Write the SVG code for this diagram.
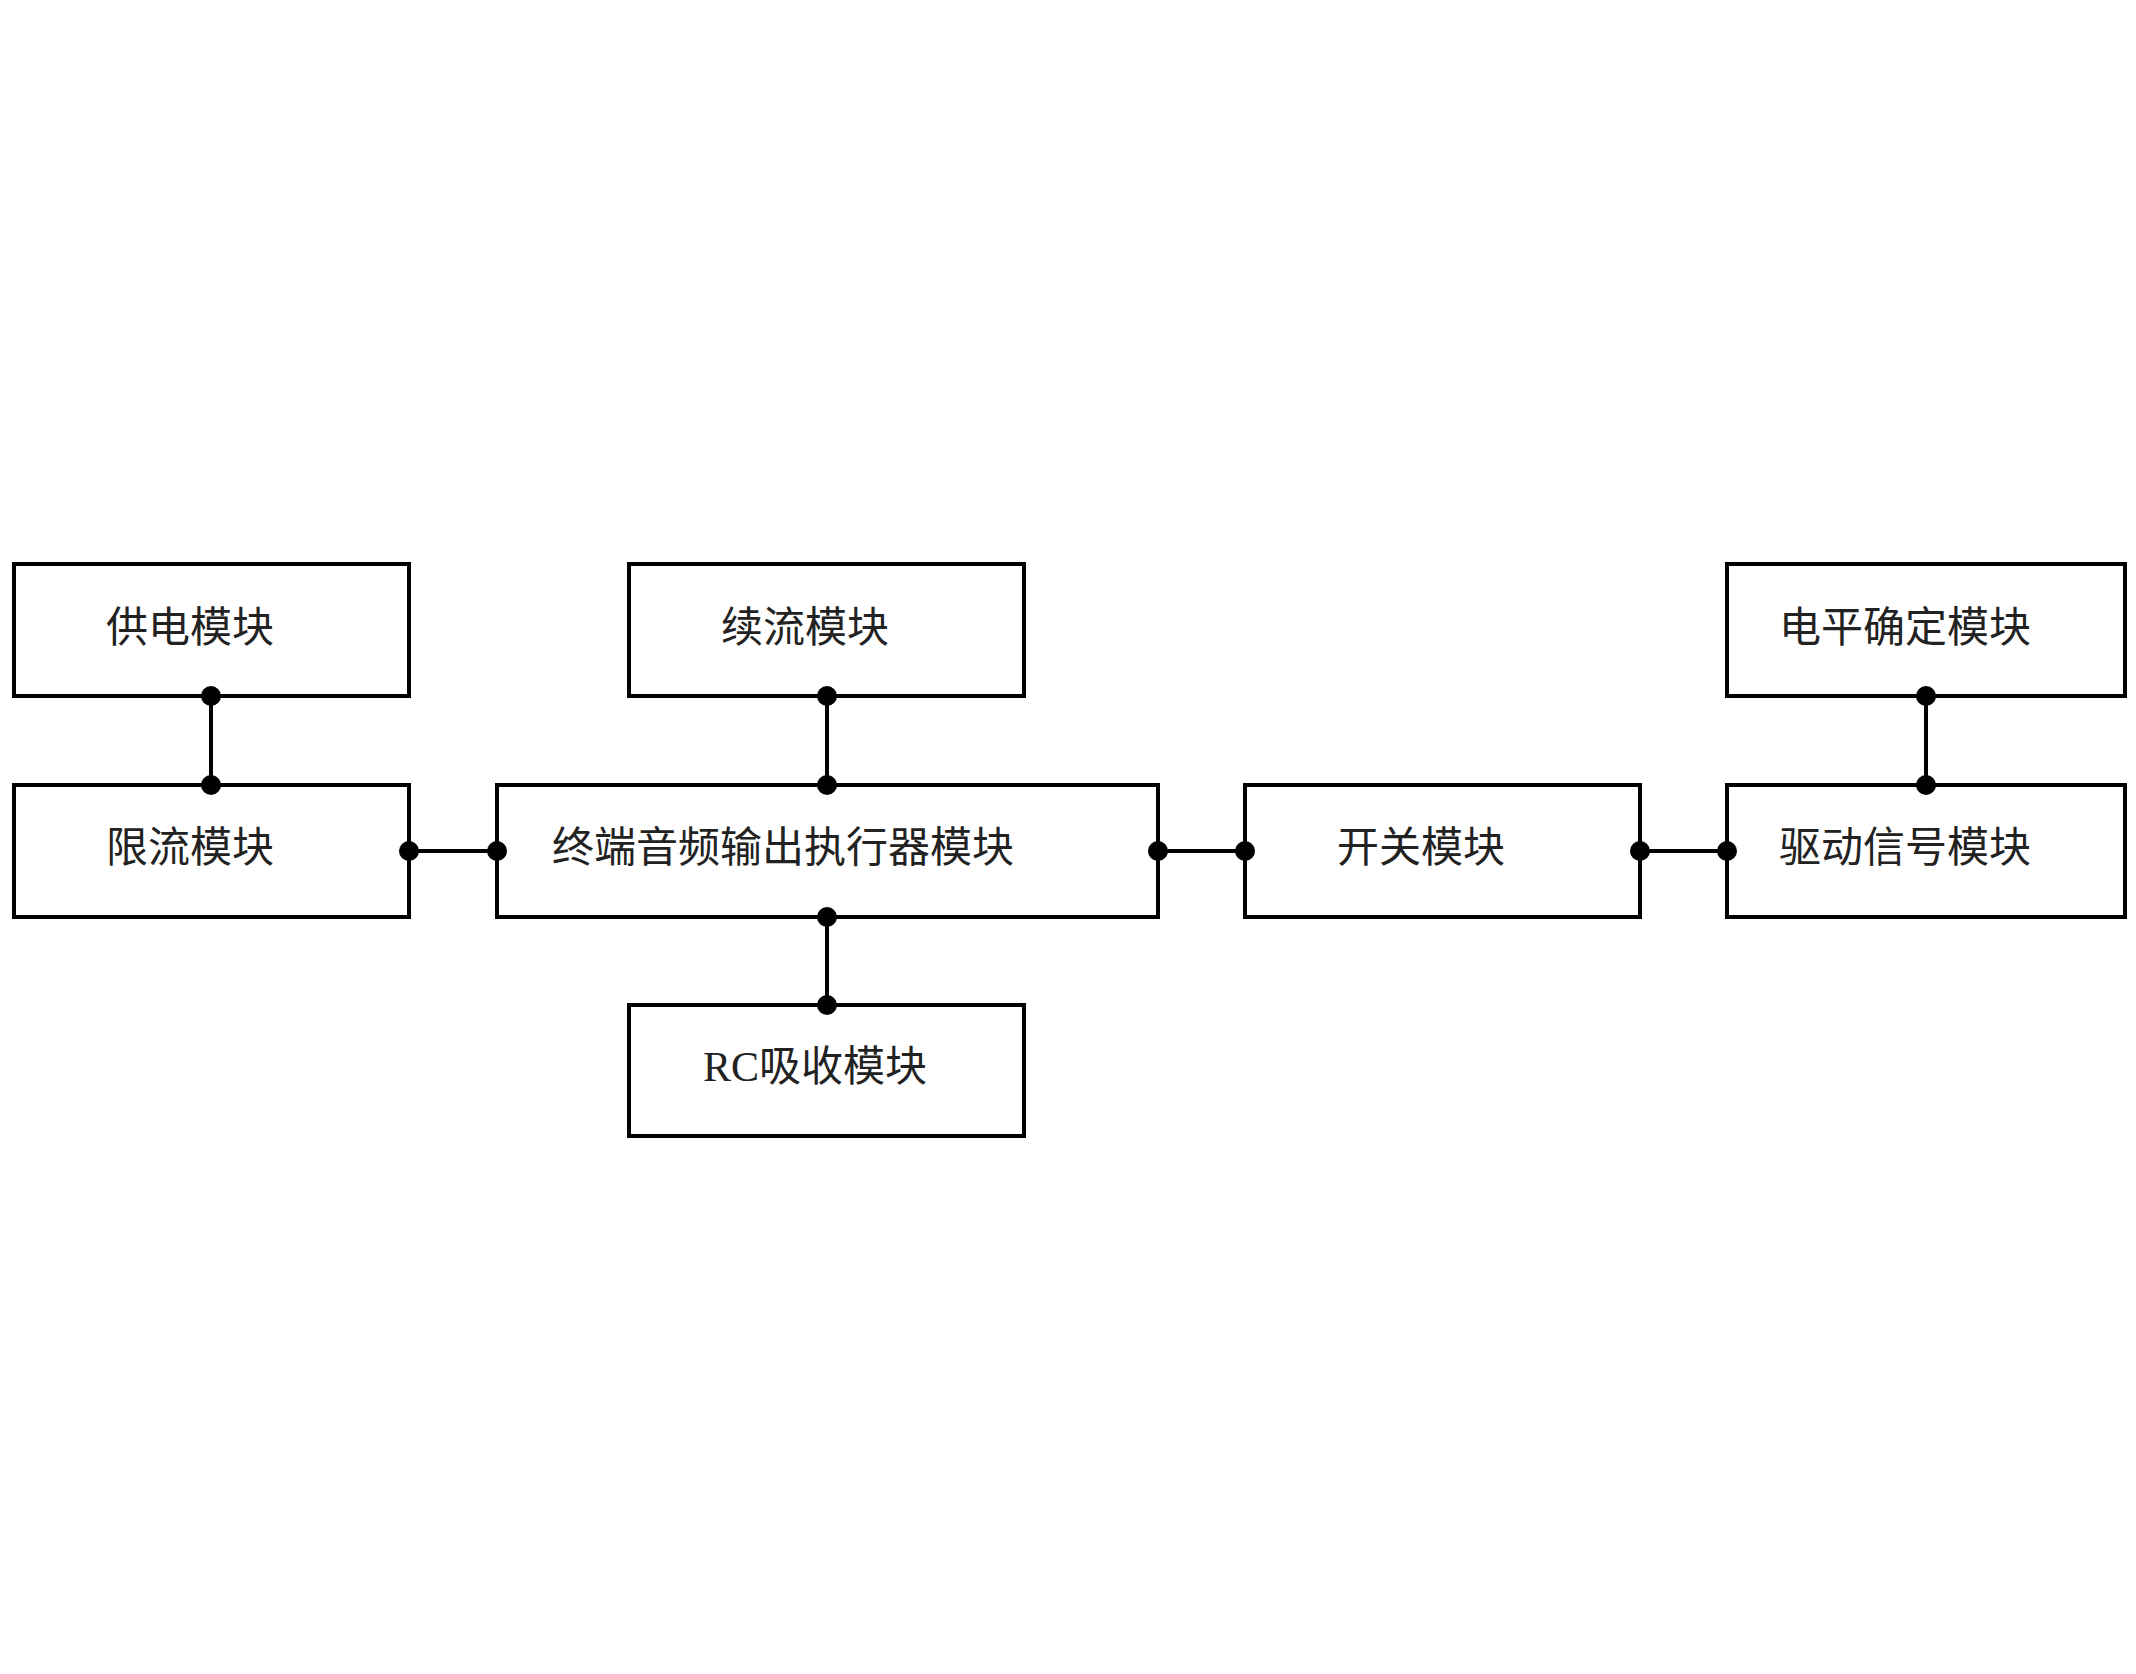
<svg xmlns="http://www.w3.org/2000/svg" width="2136" height="1674" viewBox="0 0 2136 1674">
<style>
.b{fill:#fff;stroke:#000;stroke-width:4}
.t{font-family:"Liberation Serif","Noto Sans CJK SC",serif;font-size:42px;fill:#222;text-anchor:middle;dominant-baseline:central}
.c line{stroke:#000;stroke-width:4}
.c circle{fill:#000}
</style>
<rect width="2136" height="1674" fill="#fff"/>
<g id="n1"><rect class="b" x="14" y="564" width="395" height="132"/><text class="t" x="190" y="628">供电模块</text></g>
<g id="n2"><rect class="b" x="14" y="785" width="395" height="132"/><text class="t" x="190" y="848">限流模块</text></g>
<g id="n3"><rect class="b" x="629" y="564" width="395" height="132"/><text class="t" x="805" y="628">续流模块</text></g>
<g id="n4"><rect class="b" x="497" y="785" width="661" height="132"/><text class="t" x="783" y="848">终端音频输出执行器模块</text></g>
<g id="n5"><rect class="b" x="629" y="1005" width="395" height="131"/><text class="t" x="815" y="1067">RC吸收模块</text></g>
<g id="n6"><rect class="b" x="1245" y="785" width="395" height="132"/><text class="t" x="1421" y="848">开关模块</text></g>
<g id="n7"><rect class="b" x="1727" y="564" width="398" height="132"/><text class="t" x="1905" y="628">电平确定模块</text></g>
<g id="n8"><rect class="b" x="1727" y="785" width="398" height="132"/><text class="t" x="1905" y="848">驱动信号模块</text></g>
<g class="c" id="connectors">
<line x1="211" y1="696" x2="211" y2="785"/><circle cx="211" cy="696" r="10"/><circle cx="211" cy="785" r="10"/>
<line x1="827" y1="696" x2="827" y2="785"/><circle cx="827" cy="696" r="10"/><circle cx="827" cy="785" r="10"/>
<line x1="827" y1="917" x2="827" y2="1005"/><circle cx="827" cy="917" r="10"/><circle cx="827" cy="1005" r="10"/>
<line x1="1926" y1="696" x2="1926" y2="785"/><circle cx="1926" cy="696" r="10"/><circle cx="1926" cy="785" r="10"/>
<line x1="409" y1="851" x2="497" y2="851"/><circle cx="409" cy="851" r="10"/><circle cx="497" cy="851" r="10"/>
<line x1="1158" y1="851" x2="1245" y2="851"/><circle cx="1158" cy="851" r="10"/><circle cx="1245" cy="851" r="10"/>
<line x1="1640" y1="851" x2="1727" y2="851"/><circle cx="1640" cy="851" r="10"/><circle cx="1727" cy="851" r="10"/>
</g>
</svg>
